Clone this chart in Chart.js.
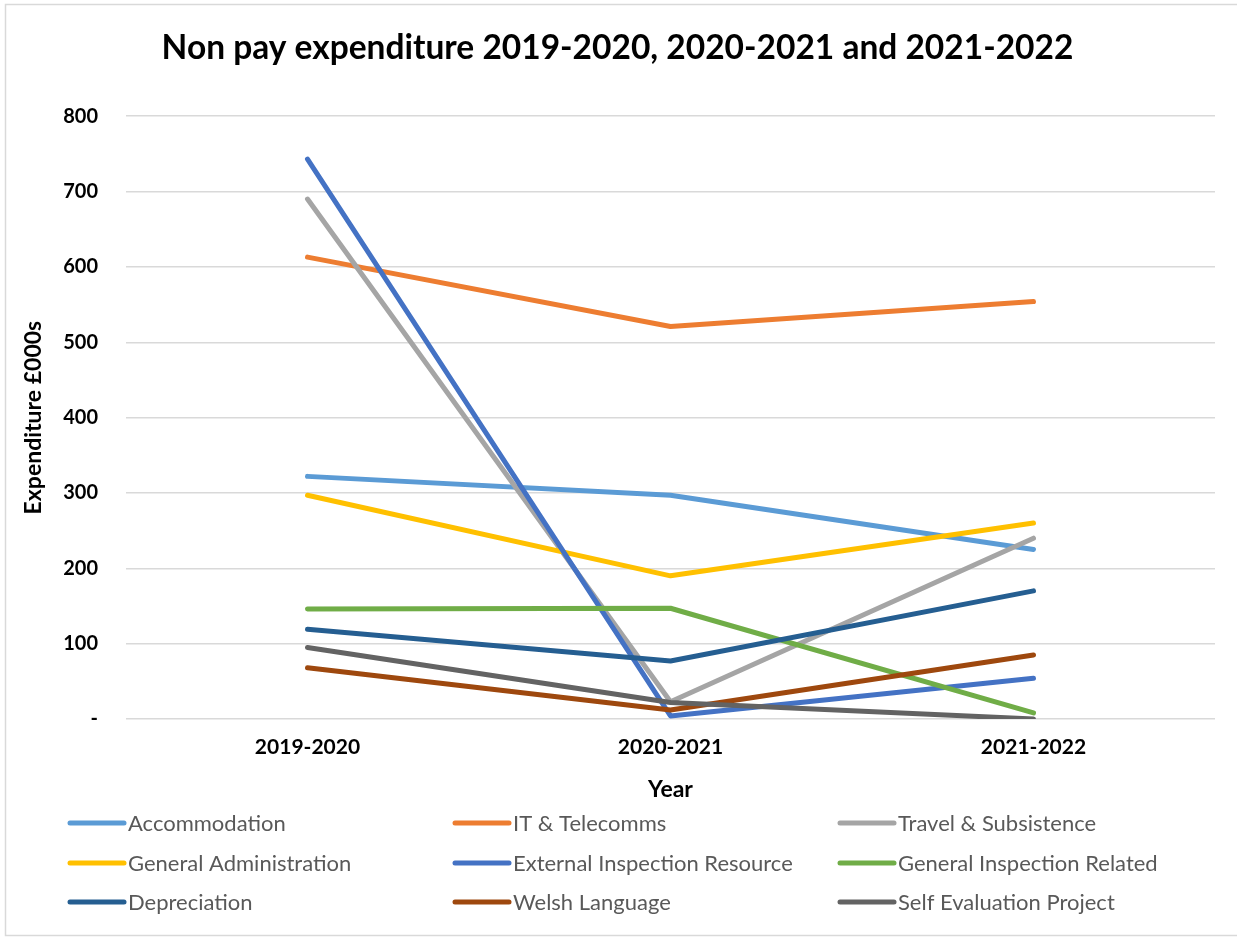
<!DOCTYPE html>
<html>
<head>
<meta charset="utf-8">
<script src="https://cdn.jsdelivr.net/npm/chart.js@4/dist/chart.umd.min.js"></script>
<style>
  body { margin: 0; background: #fff; }
  canvas { display: block; }
</style>
</head>
<body>
<canvas id="myChart" width="1237" height="938"></canvas>
<script>
const years = ['2019-2020', '2020-2021', '2021-2022'];

const accommodation = [322, 297, 225];
const itTelecomms = [613, 521, 554];
const travelSubsistence = [690, 23, 240];
const generalAdministration = [297, 190, 260];
const externalInspection = [743, 4, 54];
const generalInspection = [146, 147, 8];
const depreciation = [119, 77, 170];
const welshLanguage = [68, 12, 85];
const selfEvaluation = [95, 22, 0];

const seriesNames = [
  'Accommodation', 'IT & Telecomms', 'Travel & Subsistence',
  'General Administration', 'External Inspection Resource', 'General Inspection Related',
  'Depreciation', 'Welsh Language', 'Self Evaluation Project'
];
const seriesData = [
  accommodation, itTelecomms, travelSubsistence,
  generalAdministration, externalInspection, generalInspection,
  depreciation, welshLanguage, selfEvaluation
];
const colours = [
  '#5B9BD5', '#ED7D31', '#A5A5A5',
  '#FFC000', '#4472C4', '#70AD47',
  '#255E91', '#9E480E', '#636363'
];

const FONT = 'Lato, "Open Sans", sans-serif';

// frame round the whole chart
const framePlugin = {
  id: 'frame',
  beforeDraw(chart) {
    const c = chart.ctx;
    c.save();
    c.fillStyle = '#fff';
    c.fillRect(0, 0, chart.width, chart.height);
    c.strokeStyle = '#d9d9d9';
    c.lineWidth = 1.5;
    c.strokeRect(5.5, 4.5, chart.width + 20, chart.height - 7);
    c.restore();
  }
};

// three-column legend under the axis
const gridLegend = {
  id: 'gridLegend',
  afterDraw(chart) {
    const c = chart.ctx;
    const colX = [70, 455, 840];
    const rowY = [823, 863, 902];
    c.save();
    c.font = '22px ' + FONT;
    c.textBaseline = 'middle';
    c.lineCap = 'round';
    chart.data.datasets.forEach((ds, i) => {
      const x = colX[i % 3];
      const y = rowY[Math.floor(i / 3)];
      c.strokeStyle = ds.borderColor;
      c.lineWidth = 5;
      c.beginPath();
      c.moveTo(x, y);
      c.lineTo(x + 54, y);
      c.stroke();
      c.fillStyle = '#595959';
      c.fillText(ds.label, x + 58, y + 1);
    });
    c.restore();
  }
};

const ctx = document.getElementById('myChart').getContext('2d');
const myChart = new Chart(ctx, {
  type: 'line',
  data: {
    labels: years,
    datasets: seriesNames.map((name, i) => ({
      label: name,
      data: seriesData[i],
      borderColor: colours[i],
      backgroundColor: colours[i],
      borderWidth: 5,
      borderCapStyle: 'round',
      borderJoinStyle: 'round',
      pointRadius: 0,
      tension: 0,
      order: seriesNames.length - i
    }))
  },
  options: {
    responsive: false,
    animation: false,
    layout: { padding: { left: 20, right: 22, top: 0, bottom: 134 } },
    plugins: {
      legend: { display: false },
      tooltip: { enabled: false },
      title: {
        display: true,
        text: 'Non pay expenditure 2019-2020, 2020-2021 and 2021-2022',
        color: '#000',
        font: { family: FONT, size: 33.5, weight: 'bold' },
        padding: { top: 28, bottom: 48 }
      }
    },
    scales: {
      x: {
        offset: true,
        grid: { display: false, drawTicks: false },
        border: { display: false },
        ticks: {
          color: '#000',
          padding: 16,
          font: { family: FONT, size: 21, weight: 'bold' }
        },
        title: {
          display: true,
          text: 'Year',
          color: '#000',
          padding: 1,
          font: { family: FONT, size: 23, weight: 'bold' }
        },
        afterFit(scale) { scale.height = 85; }
      },
      y: {
        min: 0,
        max: 800,
        grid: { color: '#d9d9d9', lineWidth: 1.5, drawTicks: false },
        border: { display: false },
        ticks: {
          stepSize: 100,
          color: '#000',
          padding: 28,
          font: { family: FONT, size: 20, weight: 'bold' },
          callback: v => (v === 0 ? '-' : v)
        },
        title: {
          display: true,
          text: 'Expenditure £000s',
          color: '#000',
          padding: 0,
          font: { family: FONT, size: 23, weight: 'bold' }
        },
        afterFit(scale) { scale.width = 106; }
      }
    }
  },
  plugins: [framePlugin, gridLegend]
});
</script>
</body>
</html>
